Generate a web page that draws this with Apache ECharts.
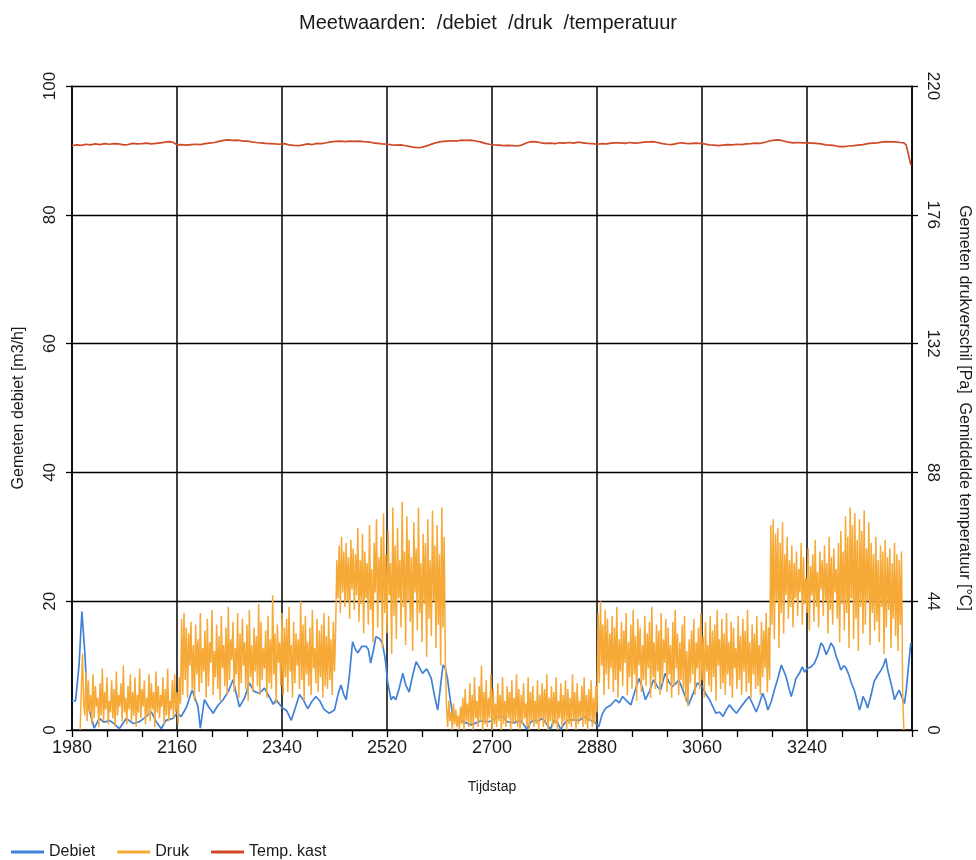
<!DOCTYPE html>
<html>
<head>
<meta charset="utf-8">
<script src="https://cdn.jsdelivr.net/npm/echarts@6.0.0/dist/echarts.min.js"></script>
<style>
  html, body { margin: 0; padding: 0; background: #ffffff; }
  #chart { width: 976px; height: 860px; }
</style>
</head>
<body>
<div id="chart"></div>
<script>
// Time axis (Tijdstap)
const tijdMin = 1980;
const tijdMax = 3420;

// Debiet [m3/h]: tijdstappen and values
const debietTijd = [
  1980,1986,1992,1997,2002,2006,2010,2018,2027,2035,2044,2052,2061,2073,2085,2096,2106,2116,2125,2133,
  2141,2153,2160,2167,2176,2186,2196,2200,2207,2215,2222,2230,2239,2248,2256,2262,2267,2276,2284,2292,
  2301,2310,2318,2325,2330,2340,2348,2356,2363,2370,2377,2384,2391,2398,2405,2412,2421,2430,2436,2441,
  2446,2450,2455,2461,2466,2470,2477,2484,2488,2492,2497,2501,2507,2512,2517,2521,2527,2531,2535,2541,
  2547,2552,2558,2564,2570,2575,2581,2588,2596,2601,2607,2612,2616,2620,2624,2628,2633,2640,2650,2665,
  2680,2696,2706,2715,2720,2726,2737,2749,2760,2766,2772,2780,2786,2793,2800,2806,2812,2818,2824,2829,
  2840,2850,2858,2866,2875,2883,2889,2895,2903,2912,2918,2924,2930,2938,2945,2952,2958,2963,2970,2977,
  2983,2989,2997,3003,3009,3015,3020,3028,3037,3044,3052,3061,3067,3073,3079,3084,3090,3096,3101,3107,
  3113,3119,3127,3136,3141,3147,3153,3158,3164,3169,3173,3179,3184,3190,3196,3200,3204,3209,3213,3217,
  3221,3227,3232,3236,3241,3247,3253,3258,3264,3268,3273,3277,3281,3286,3290,3294,3298,3303,3307,3312,
  3316,3321,3326,3330,3333,3336,3340,3344,3350,3355,3361,3367,3371,3375,3378,3381,3386,3390,3394,3398,
  3403,3407,3410,3414,3418
];
const debiet = [
  4.5,4.5,10,18.4,12,5,3,0.3,1.8,1.2,1.5,1.0,0.2,1.8,1.0,1.3,2.0,2.8,1.2,0.2,
  1.5,1.8,2.6,2.1,3.5,6.2,3.6,0.3,4.7,3.5,2.6,3.8,4.7,6.0,7.8,5.5,3.6,5.0,7.3,6.0,
  5.7,6.5,5.2,4.0,4.7,3.5,3.0,1.5,3.5,5.5,4.6,3.3,4.4,5.2,4.5,3.2,2.6,3.1,5.5,7.0,
  5.5,4.7,8.0,13.7,12.5,12.0,13.0,13.0,12.5,10.4,12.5,14.5,14.2,13.5,11.0,7.5,4.7,5.2,4.7,6.5,
  8.8,7.0,5.9,8.5,10.6,9.8,8.8,9.5,8.0,5.5,3.1,7.0,10.1,9.6,7.8,5.0,2.1,1.6,1.3,0.8,
  1.4,1.3,1.8,2.3,1.9,1.3,1.1,1.5,0.1,1.2,1.5,1.4,1.8,1.0,0.1,1.5,1.2,0.1,1.0,1.5,
  1.6,1.5,2.1,1.6,1.3,0.5,2.5,3.4,3.8,4.7,4.2,5.2,4.6,3.9,6.0,8.0,6.5,4.7,6.0,7.8,
  6.8,6.2,8.8,7.5,6.7,7.2,7.8,6.0,3.9,5.5,7.3,6.7,5.5,4.7,3.5,2.6,2.8,2.1,3.0,3.9,
  3.2,2.6,3.6,4.7,5.2,4.0,2.8,4.0,5.7,4.5,3.1,4.5,6.2,8.0,10.1,9.2,8.3,6.5,5.2,6.5,
  8.0,8.8,9.8,9.0,9.6,9.8,10.4,11.5,13.5,13.0,11.7,12.5,13.5,12.8,11.4,10.5,9.3,10.0,9.6,8.5,
  7.3,6.2,4.5,3.1,4.0,5.2,4.5,3.4,5.5,7.5,8.5,9.3,10.0,11.1,9.5,8.3,6.5,4.7,5.5,6.2,
  5.0,4.1,6.0,10.0,13.5
];

// Druk [Pa]: one sample every drukStap from drukStart
const drukStart = 1994;
const drukStap = 2;
const druk = [
  // 1994 - 2166
  0,14,26,9,5,20,3,17,6,12,
  2,19,4,15,8,11,1,16,5,21,
  3,13,7,18,2,10,6,17,4,14,
  1,20,5,12,8,16,3,22,6,11,
  2,15,7,19,3,13,5,18,1,12,
  6,21,4,14,8,17,2,11,5,19,
  3,16,7,13,1,20,6,15,4,12,
  8,18,2,14,5,21,3,10,7,17,
  4,19,6,13,2,18,9,
  // 2168 - 2432
  38,12,40,17,35,11,33,22,37,14,
  29,10,36,19,31,13,40,16,28,20,
  34,11,38,15,30,23,41,12,27,18,
  36,14,32,10,39,21,29,15,35,12,
  42,17,31,24,37,13,28,19,40,11,
  33,16,38,22,30,14,36,10,41,18,
  29,13,35,20,32,15,43,12,37,17,
  28,21,34,11,39,16,31,14,46,19,
  33,9,36,23,30,15,40,12,35,18,
  38,13,42,20,29,11,37,16,33,22,
  31,14,44,17,36,10,39,19,30,15,
  35,12,41,21,28,16,38,13,34,18,
  36,11,40,15,32,14,39,17,31,12,
  37,20,35,
  // 2434 - 2620
  58,45,63,40,66,47,61,42,64,44,
  59,38,65,48,62,41,60,46,69,37,
  58,43,67,33,61,45,57,36,70,41,
  55,30,64,47,72,35,59,44,66,28,
  74,40,60,33,68,46,57,26,76,39,
  63,31,69,45,58,35,78,42,61,29,
  73,44,65,37,59,27,71,47,62,34,
  76,40,57,30,67,43,64,25,72,38,
  58,32,75,44,63,28,70,36,60,22,
  76,35,66,24,
  // 2622 - 2880
  8,1,10,3,6,0,9,2,7,1,
  5,0,8,2,11,0,14,3,9,1,
  16,2,12,0,18,4,10,1,15,3,
  22,0,13,2,17,1,11,4,19,0,
  14,2,9,1,16,3,12,0,18,2,
  10,1,15,4,13,0,17,2,11,3,
  19,1,14,0,12,2,16,4,9,1,
  18,0,13,3,15,1,10,2,17,0,
  12,4,16,1,14,2,19,0,11,3,
  15,1,13,2,18,0,10,4,16,1,
  12,3,17,0,14,2,11,1,19,3,
  13,0,16,2,10,4,15,1,18,2,
  12,0,14,3,17,1,11,2,15,6,
  // 2882 - 3176
  40,16,44,22,36,12,41,19,38,14,
  33,21,39,13,35,17,42,11,31,20,
  37,15,34,23,40,12,30,18,36,14,
  41,19,32,10,38,22,35,13,29,17,
  39,15,33,21,37,11,42,18,30,14,
  36,20,34,12,40,16,31,23,38,13,
  35,19,29,11,37,15,41,21,33,12,
  30,17,36,14,39,10,27,8,31,16,
  34,19,38,12,30,21,35,14,40,17,
  32,11,37,20,29,15,39,13,34,18,
  36,10,41,22,31,14,38,16,33,12,
  40,19,30,15,37,11,35,21,28,14,
  39,17,32,12,38,20,34,13,41,16,
  30,11,36,19,33,14,39,15,29,12,
  37,18,34,21,40,13,35,17,
  // 3178 - 3402
  70,36,72,31,67,44,69,28,64,40,
  71,33,60,46,66,38,58,42,63,35,
  57,45,61,39,55,47,64,36,59,43,
  52,40,62,34,56,46,60,37,65,42,
  54,35,61,48,58,39,63,44,57,33,
  66,41,59,36,62,47,55,38,64,30,
  68,43,61,34,73,40,66,28,76,45,
  70,31,74,38,65,27,72,42,68,33,
  75,36,62,44,71,29,64,40,60,34,
  66,37,58,30,63,42,61,26,65,35,
  59,41,62,28,57,38,64,32,60,27,
  58,36,61,
  // 3404 - 3406
  12,0
];

// Temp. kast [°C]: [tijdstap, waarde]
const temperatuur = [
  [1980,199.6],[1988,199.9],[1996,199.7],[2004,200.1],[2012,199.9],[2020,200.2],[2028,200.0],[2036,200.3],
  [2044,200.1],[2052,200.3],[2060,200.2],[2068,199.9],[2076,200.0],[2084,200.4],[2092,200.2],[2100,200.3],
  [2108,200.5],[2116,200.2],[2124,200.4],[2132,200.6],[2140,200.8],[2148,201.0],[2154,200.7],[2160,199.9],
  [2168,200.0],[2176,199.8],[2184,200.0],[2192,200.1],[2200,200.0],[2208,200.3],[2216,200.5],[2224,200.7],
  [2232,201.1],[2240,201.4],[2248,201.6],[2256,201.4],[2264,201.5],[2272,201.2],[2280,201.2],[2288,200.9],
  [2296,200.7],[2304,200.6],[2312,200.4],[2320,200.3],[2328,200.2],[2336,200.1],[2344,200.3],[2352,199.9],
  [2360,199.7],[2368,199.6],[2376,199.9],[2384,200.2],[2392,200.0],[2400,200.4],[2408,200.3],[2416,200.6],
  [2424,200.9],[2432,201.1],[2440,201.2],[2448,201.0],[2456,201.2],[2464,201.1],[2472,201.2],[2480,201.0],
  [2488,200.9],[2496,200.6],[2504,200.4],[2512,200.2],[2520,200.1],[2528,199.9],[2536,199.8],[2544,199.9],
  [2552,199.6],[2560,199.3],[2568,199.0],[2576,198.9],[2584,199.3],[2592,199.8],[2600,200.4],[2608,200.8],
  [2616,201.1],[2624,201.2],[2632,201.3],[2640,201.2],[2648,201.5],[2656,201.4],[2664,201.5],[2672,201.2],
  [2680,200.9],[2688,200.4],[2696,200.1],[2704,199.9],[2712,199.8],[2720,199.6],[2728,199.7],[2736,199.6],
  [2744,199.5],[2752,199.9],[2760,200.6],[2768,201.0],[2776,200.9],[2784,200.6],[2792,200.4],[2800,200.5],
  [2808,200.3],[2816,200.6],[2824,200.5],[2832,200.7],[2840,200.5],[2848,200.8],[2856,200.6],[2864,200.4],
  [2872,200.3],[2880,200.1],[2888,200.3],[2896,200.2],[2904,200.5],[2912,200.6],[2920,200.6],[2928,200.4],
  [2936,200.7],[2944,200.5],[2952,200.6],[2960,200.8],[2968,200.9],[2976,201.0],[2984,200.7],[2992,200.3],
  [3000,200.1],[3008,200.0],[3016,200.3],[3024,200.6],[3032,200.4],[3040,200.3],[3048,200.5],[3056,200.4],
  [3064,200.2],[3072,199.9],[3080,199.8],[3088,199.6],[3096,199.8],[3104,200.0],[3112,199.9],[3120,200.1],
  [3128,200.0],[3136,200.2],[3144,200.3],[3152,200.5],[3160,200.4],[3168,200.8],[3176,201.2],[3184,201.5],
  [3192,201.6],[3200,201.2],[3208,200.8],[3216,200.6],[3224,200.7],[3232,200.6],[3240,200.6],[3248,200.5],
  [3256,200.4],[3264,200.2],[3272,199.9],[3280,199.8],[3288,199.6],[3296,199.3],[3304,199.3],[3312,199.5],
  [3320,199.6],[3328,199.8],[3336,200.0],[3344,200.3],[3352,200.5],[3360,200.6],[3368,200.8],[3376,201.0],
  [3384,200.9],[3392,200.9],[3400,200.7],[3406,200.6],[3410,199.9],[3414,196.5],[3418,193.0]
];

const debietData = debietTijd.map((t, i) => [t, debiet[i]]);
const drukData = druk.map((v, i) => [drukStart + i * drukStap, v]);

const fontBase = "'Liberation Sans', Arial, sans-serif";
const ink = '#1a1a1a';

const chart = echarts.init(document.getElementById('chart'), null, { renderer: 'canvas' });
chart.setOption({
  animation: false,
  backgroundColor: '#ffffff',
  title: {
    text: 'Meetwaarden:  /debiet  /druk  /temperatuur',
    left: 'center',
    top: 8,
    textStyle: { fontFamily: fontBase, fontSize: 20, fontWeight: 'normal', color: ink }
  },
  legend: {
    left: 6,
    top: 839,
    itemWidth: 33,
    itemHeight: 3,
    itemGap: 22,
    icon: 'rect',
    textStyle: { fontFamily: fontBase, fontSize: 16, color: ink },
    data: ['Debiet', 'Druk', 'Temp. kast']
  },
  grid: { left: 72, right: 64, top: 86, bottom: 130, outerBoundsMode: 'none', containLabel: false },
  xAxis: {
    type: 'value',
    min: tijdMin,
    max: tijdMax,
    interval: 180,
    name: 'Tijdstap',
    nameLocation: 'middle',
    nameGap: 50,
    nameTextStyle: { fontFamily: fontBase, fontSize: 14, color: ink },
    axisLine: { show: true, lineStyle: { color: '#000', width: 1.5 } },
    axisTick: { show: true, length: 7, lineStyle: { color: '#000', width: 1.3 } },
    minorTick: { show: true, splitNumber: 3, length: 7, lineStyle: { color: '#000', width: 1.3 } },
    axisLabel: {
      fontFamily: fontBase, fontSize: 18, color: ink, margin: 9, showMaxLabel: false,
      formatter: (v) => String(v)
    },
    splitLine: { show: true, lineStyle: { color: '#000', width: 1.5 } }
  },
  yAxis: [
    {
      type: 'value',
      min: 0,
      max: 100,
      interval: 20,
      position: 'left',
      name: 'Gemeten debiet [m3/h]',
      nameLocation: 'middle',
      nameRotate: 90,
      nameGap: 45,
      nameTextStyle: { fontFamily: fontBase, fontSize: 16, color: ink },
      axisLine: { show: true, lineStyle: { color: '#000', width: 1.5 } },
      axisTick: { show: true, length: 6, lineStyle: { color: '#000', width: 1.3 } },
      axisLabel: { fontFamily: fontBase, fontSize: 17, color: ink, rotate: 90, margin: 13 },
      splitLine: { show: true, lineStyle: { color: '#000', width: 1.3 } }
    },
    {
      type: 'value',
      min: 0,
      max: 220,
      interval: 44,
      position: 'right',
      name: 'Gemeten drukverschil [Pa]  Gemiddelde temperatuur [°C]',
      nameLocation: 'middle',
      nameRotate: -90,
      nameGap: 44,
      nameTextStyle: { fontFamily: fontBase, fontSize: 16, color: ink },
      axisLine: { show: true, lineStyle: { color: '#000', width: 1.5 } },
      axisTick: { show: true, length: 6, lineStyle: { color: '#000', width: 1.3 } },
      axisLabel: { fontFamily: fontBase, fontSize: 17, color: ink, rotate: -90, margin: 12 },
      splitLine: { show: false }
    }
  ],
  series: [
    {
      name: 'Debiet',
      type: 'line',
      yAxisIndex: 0,
      data: debietData,
      showSymbol: false,
      color: '#4182d8',
      lineStyle: { width: 1.7, color: '#4182d8' }
    },
    {
      name: 'Druk',
      type: 'line',
      yAxisIndex: 1,
      data: drukData,
      showSymbol: false,
      color: '#f6a936',
      lineStyle: { width: 1.5, color: '#f6a936' }
    },
    {
      name: 'Temp. kast',
      type: 'line',
      yAxisIndex: 1,
      data: temperatuur,
      showSymbol: false,
      color: '#d04a28',
      lineStyle: { width: 1.7, color: '#d04a28' }
    }
  ]
});
</script>
</body>
</html>
